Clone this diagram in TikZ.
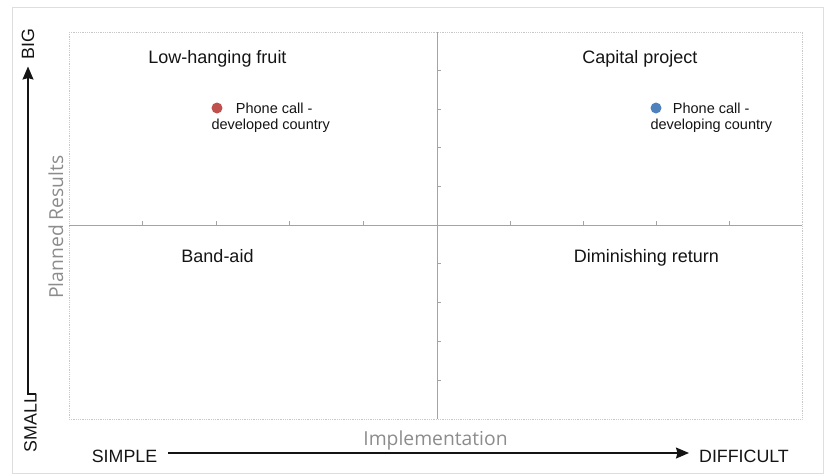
\documentclass[tikz,border=0pt]{standalone}
\usepackage{fontspec}
\setmainfont{Liberation Sans}
\newfontfamily\axisfont{Open Sans}
\usetikzlibrary{positioning,arrows.meta}
\definecolor{framegray}{HTML}{DEDEDE}
\definecolor{boxgray}{HTML}{C8C8C8}
\definecolor{midgray}{HTML}{A4A4A4}
\definecolor{titlegray}{HTML}{8C8C8C}
\definecolor{axisblack}{HTML}{141414}
\definecolor{dotred}{HTML}{C0504D}
\definecolor{dotblue}{HTML}{4F81BD}

\begin{document}
\begin{tikzpicture}[x=1pt,y=-1pt,
  quadlbl/.style={anchor=base,inner sep=0pt,text=axisblack,font=\fontsize{18}{20}\selectfont},
  ptlbl/.style={inner sep=0pt,text=axisblack,font=\fontsize{14.5}{16}\selectfont},
  axislbl/.style={inner sep=0pt,text=axisblack,font=\fontsize{17.8}{20}\selectfont},
  axistitle/.style={anchor=base,inner sep=0pt,text=titlegray,font=\axisfont\fontsize{19.3}{22}\selectfont},
  dotmark/.style={circle,inner sep=0pt,minimum size=11pt},
  axisarrow/.style={line width=1.4pt,draw=axisblack,-{Stealth[length=13pt,width=11pt,inset=1.5pt]}},
  midline/.style={draw=midgray,line width=1pt}]
\useasboundingbox (0,0) rectangle (825,475);
% outer frame and plot area (1pt = 1px, y runs down)
\draw[framegray,line width=1pt] (12,7) rectangle (823,473);
\draw[boxgray,line width=0.8pt,densely dotted] (69,32) rectangle (802,419);

% quadrant dividers with ticks
\draw[midline] (437,32) -- (437,419);
\draw[midline] (69,225) -- (802,225);
\draw[midline] (142.6,225) -- ++(0,-4) (216.2,225) -- ++(0,-4) (289.8,225) -- ++(0,-4) (363.4,225) -- ++(0,-4)
  (510.2,225) -- ++(0,-4) (583.2,225) -- ++(0,-4) (656.4,225) -- ++(0,-4) (729.6,225) -- ++(0,-4);
\draw[midline] (437,70.6) -- ++(4,0) (437,109.2) -- ++(4,0) (437,147.8) -- ++(4,0) (437,186.4) -- ++(4,0)
  (437,263.8) -- ++(4,0) (437,302.6) -- ++(4,0) (437,341.4) -- ++(4,0) (437,380.2) -- ++(4,0);

% quadrant names
\node[quadlbl] (lowfruit) at (217.5,63) {Low-hanging fruit};
\node[quadlbl] (capital) at (640,63) {Capital project};
\node[quadlbl] (bandaid) at (217.5,262) {Band-aid};
\node[quadlbl] (diminish) at (646.5,262) {Diminishing return};

% the two phone calls
\node[dotmark,fill=dotred] (reddot) at (217,108) {};
\node[ptlbl,anchor=west,right=13pt of reddot] (red1) {Phone call -};
\node[ptlbl,anchor=base west] (red2) at ([yshift=-16.5pt]red1.base west -| reddot.west) {developed country};
\node[dotmark,fill=dotblue] (bluedot) at (656,108) {};
\node[ptlbl,anchor=west,right=11pt of bluedot] (blue1) {Phone call -};
\node[ptlbl,anchor=base west] (blue2) at ([yshift=-16.5pt]blue1.base west -| bluedot.west) {developing country};

% axes
\node[axislbl,rotate=90] (big) at (28,44) {BIG};
\node[axislbl,rotate=90] (small) at (30.5,423) {SMALL};
\coordinate (stub) at (36,394);
\draw[axisarrow,shorten >=7pt] (stub) -| (big.west);
\node[axislbl] (simple) at (124.5,456) {SIMPLE};
\node[axislbl] (difficult) at (744,456) {DIFFICULT};
\draw[axisarrow,shorten <=11pt,shorten >=10pt] ([yshift=3pt]simple.east) -- ([yshift=3pt]difficult.west);
\node[axistitle,rotate=90] (planned) at (63,227) {Planned Results};
\node[axistitle] (implement) at (435.5,445) {Implementation};
\end{tikzpicture}
\end{document}
